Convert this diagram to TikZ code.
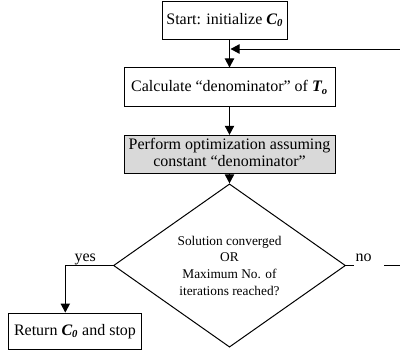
\documentclass[tikz,border=0pt]{standalone}
\usepackage{fontspec}
\setmainfont{Liberation Serif}
\usetikzlibrary{shapes.geometric,arrows.meta}
\definecolor{boxgray}{RGB}{217,217,217}
\begin{document}
\begin{tikzpicture}[x=0.75pt,y=-0.75pt,
  box/.style={draw,line width=0.75pt,rectangle,inner sep=0pt,font=\fontsize{12}{14}\selectfont,align=center},
  arr/.style={-{Triangle[length=6.75pt,width=7pt]},line width=0.75pt},
  ln/.style={line width=0.75pt},
  lab/.style={font=\fontsize{12}{14}\selectfont,inner sep=0pt,anchor=base}]
\useasboundingbox (0,0) rectangle (400,355);
\node[box,minimum width=93.75pt,minimum height=28.5pt] (start) at (224.7,20.2) {Start: initialize \textbf{\textit{C\textsubscript{0}}}};
\node[box,minimum width=158.25pt,minimum height=29pt] (calc) at (229.5,87.3) {Calculate “denominator” of \textbf{\textit{T\textsubscript{o}}}};
\node[box,fill=boxgray,minimum width=158.25pt,minimum height=28.8pt] (perf) at (229.5,154.5) {\raisebox{-2.4pt}{\begin{tabular}{@{}c@{}}Perform optimization assuming\\[-1.5pt]constant “denominator”\end{tabular}}};
\node[draw,ln,diamond,inner sep=0pt,minimum width=174pt,minimum height=96.75pt,align=center,font=\fontsize{10}{12.5}\selectfont] (dec) at (229.5,265.5) {Solution converged\\OR\\Maximum No. of\\iterations reached?};
\node[box,minimum width=100pt,minimum height=27.2pt] (ret) at (75,331.2) {Return \textbf{\textit{C\textsubscript{0}}} and stop};
\draw[arr] (calc.north |- start.south) -- (calc.north);
\draw[arr] (calc.south) -- (perf.north);
\draw[arr] (perf.south) -- (dec.north);
\coordinate (yc) at (65.3,265.5);
\draw[arr] (dec.west) -- (yc) -- (yc |- ret.north);
\node[lab] (yes) at (85.3,261.5) {yes};
\node[lab] (no) at (363.5,261.5) {no};
\coordinate (n1) at (354,265.5);
\coordinate (n2) at (384,265.5);
\coordinate (n3) at (412,265.5);
\coordinate (j) at (230.5,49);
\draw[ln] (dec.east) -- (n1);
\draw[arr] (n2) -- (n3) |- (j);
\end{tikzpicture}
\end{document}
